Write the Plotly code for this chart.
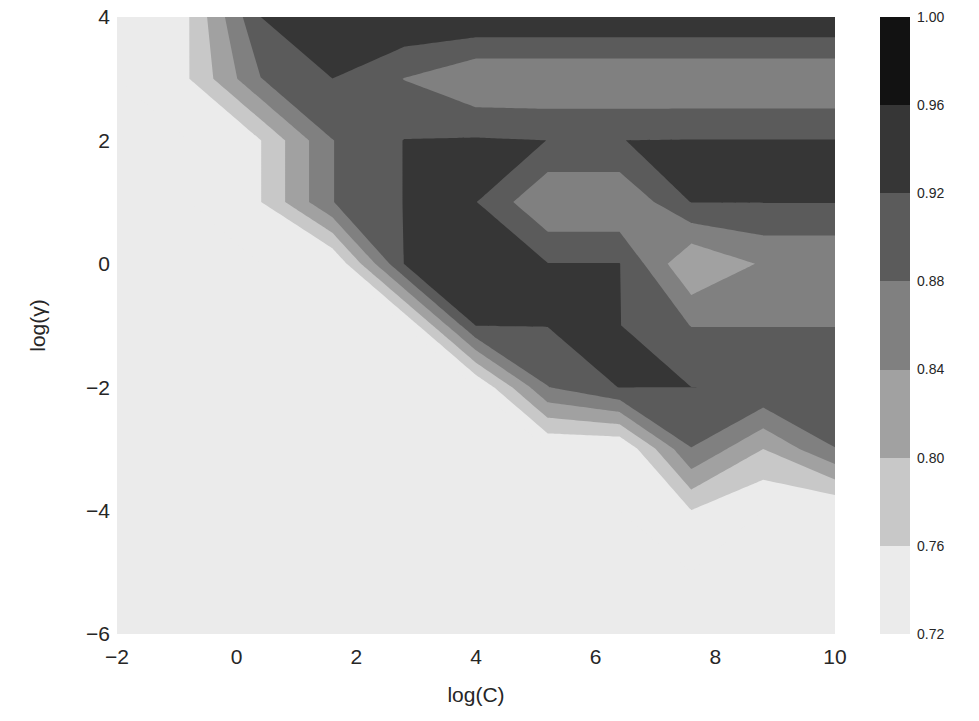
import plotly.graph_objects as go

# grid axes
log_C = [-2.0, -0.8, 0.4, 1.6, 2.8, 4.0, 5.2, 6.4, 7.6, 8.8, 10.0]
log_gamma = [-6, -5, -4, -3, -2, -1, 0, 1, 2, 3, 4]

# accuracy rows, one per log(gamma) value (bottom to top), columns follow log_C
acc_g_m6 = [0.72] * 11
acc_g_m5 = [0.72] * 11
acc_g_m4 = [0.72, 0.72, 0.72, 0.72, 0.72, 0.72, 0.72, 0.72, 0.759, 0.72, 0.72]
acc_g_m3 = [0.72, 0.72, 0.72, 0.72, 0.72, 0.72, 0.72, 0.72, 0.879, 0.80, 0.879]
acc_g_m2 = [0.72, 0.72, 0.72, 0.72, 0.72, 0.72, 0.879, 0.921, 0.9201, 0.919, 0.919]
acc_g_m1 = [0.72, 0.72, 0.72, 0.72, 0.72, 0.921, 0.921, 0.921, 0.879, 0.879, 0.879]
acc_g_0 = [0.72, 0.72, 0.72, 0.72, 0.921, 0.958, 0.921, 0.921, 0.80, 0.845, 0.845]
acc_g_1 = [0.72, 0.72, 0.759, 0.879, 0.921, 0.921, 0.842, 0.842, 0.921, 0.921, 0.921]
acc_g_2 = [0.72, 0.72, 0.759, 0.879, 0.921, 0.924, 0.9199, 0.9199, 0.921, 0.921, 0.921]
acc_g_3 = [0.72, 0.759, 0.879, 0.9199, 0.879, 0.842, 0.842, 0.842, 0.842, 0.842, 0.842]
acc_g_4 = [0.72, 0.759, 0.9199, 0.958, 0.958, 0.958, 0.958, 0.958, 0.958, 0.958, 0.958]

accuracy = [acc_g_m6, acc_g_m5, acc_g_m4, acc_g_m3, acc_g_m2, acc_g_m1,
            acc_g_0, acc_g_1, acc_g_2, acc_g_3, acc_g_4]

# contour levels (also the colour-bar ticks)
levels = [0.72, 0.76, 0.80, 0.84, 0.88, 0.92, 0.96, 1.00]
x_ticks = [-2, 0, 2, 4, 6, 8, 10]
y_ticks = [-6, -4, -2, 0, 2, 4]

band_colors = ["#ebebeb", "#c8c8c8", "#a1a1a1", "#808080", "#5b5b5b", "#363636", "#121212"]
colorscale = [[0.0, band_colors[0]]]
for k, c in enumerate(band_colors):
    colorscale.append([0.125 * (k + 1), c])
colorscale.append([1.0, band_colors[-1]])

step = levels[1] - levels[0]
cmin, cmax = levels[0] - step / 2, levels[-1] + step / 2   # plotly's fill colour domain
band_mid = [[(levels[k] + levels[k + 1]) / 2] for k in range(len(levels) - 1)]

font_family = "Liberation Sans Narrow, Liberation Sans, Arial, sans-serif"
text_color = "#262626"

fig = go.Figure()
fig.add_trace(go.Contour(
    x=log_C, y=log_gamma, z=accuracy,
    contours=dict(start=levels[0], end=levels[-1], size=step,
                  coloring="fill", showlines=False),
    line=dict(width=0, smoothing=0),
    colorscale=colorscale, showscale=False,
    xaxis="x", yaxis="y",
))
# colour bar drawn as a one-column heatmap on its own axes
fig.add_trace(go.Heatmap(
    x=[0, 1], y=levels, z=band_mid,
    colorscale=colorscale, zmin=cmin, zmax=cmax, showscale=False,
    xaxis="x2", yaxis="y2", hoverinfo="skip",
))

fig.update_layout(
    width=979, height=721,
    margin=dict(l=117, r=69, t=17, b=87, autoexpand=False),
    paper_bgcolor="white", plot_bgcolor="#ebebeb",
    font=dict(family=font_family, color=text_color),
    showlegend=False,
    xaxis=dict(domain=[0, 718 / 793], range=[-2, 10], tickvals=x_ticks,
               ticktext=[str(v).replace("-", "\u2212") for v in x_ticks],
               showgrid=False, zeroline=False, showline=False, ticks="",
               ticklabelstandoff=8, automargin=False,
               tickfont=dict(size=21), title=dict(text="log(C)", font=dict(size=21), standoff=20)),
    yaxis=dict(domain=[0, 1], range=[-6, 4], tickvals=y_ticks,
               ticktext=[str(v).replace("-", "\u2212") for v in y_ticks],
               showgrid=False, zeroline=False, showline=False, ticks="",
               ticklabelstandoff=6, automargin=False,
               tickfont=dict(size=21), title=dict(text="log(\u03b3)", font=dict(size=21), standoff=34)),
    xaxis2=dict(domain=[763 / 793, 1], range=[0, 1], anchor="y2", automargin=False,
                showticklabels=False, showgrid=False, zeroline=False, ticks=""),
    yaxis2=dict(domain=[0, 1], range=[levels[0], levels[-1]], anchor="x2", side="right",
                tickvals=levels, ticktext=[f"{v:.2f}" for v in levels],
                showgrid=False, zeroline=False, ticks="", ticklabelstandoff=6,
                automargin=False, tickfont=dict(size=14)),
)

fig.write_html("out.html")
